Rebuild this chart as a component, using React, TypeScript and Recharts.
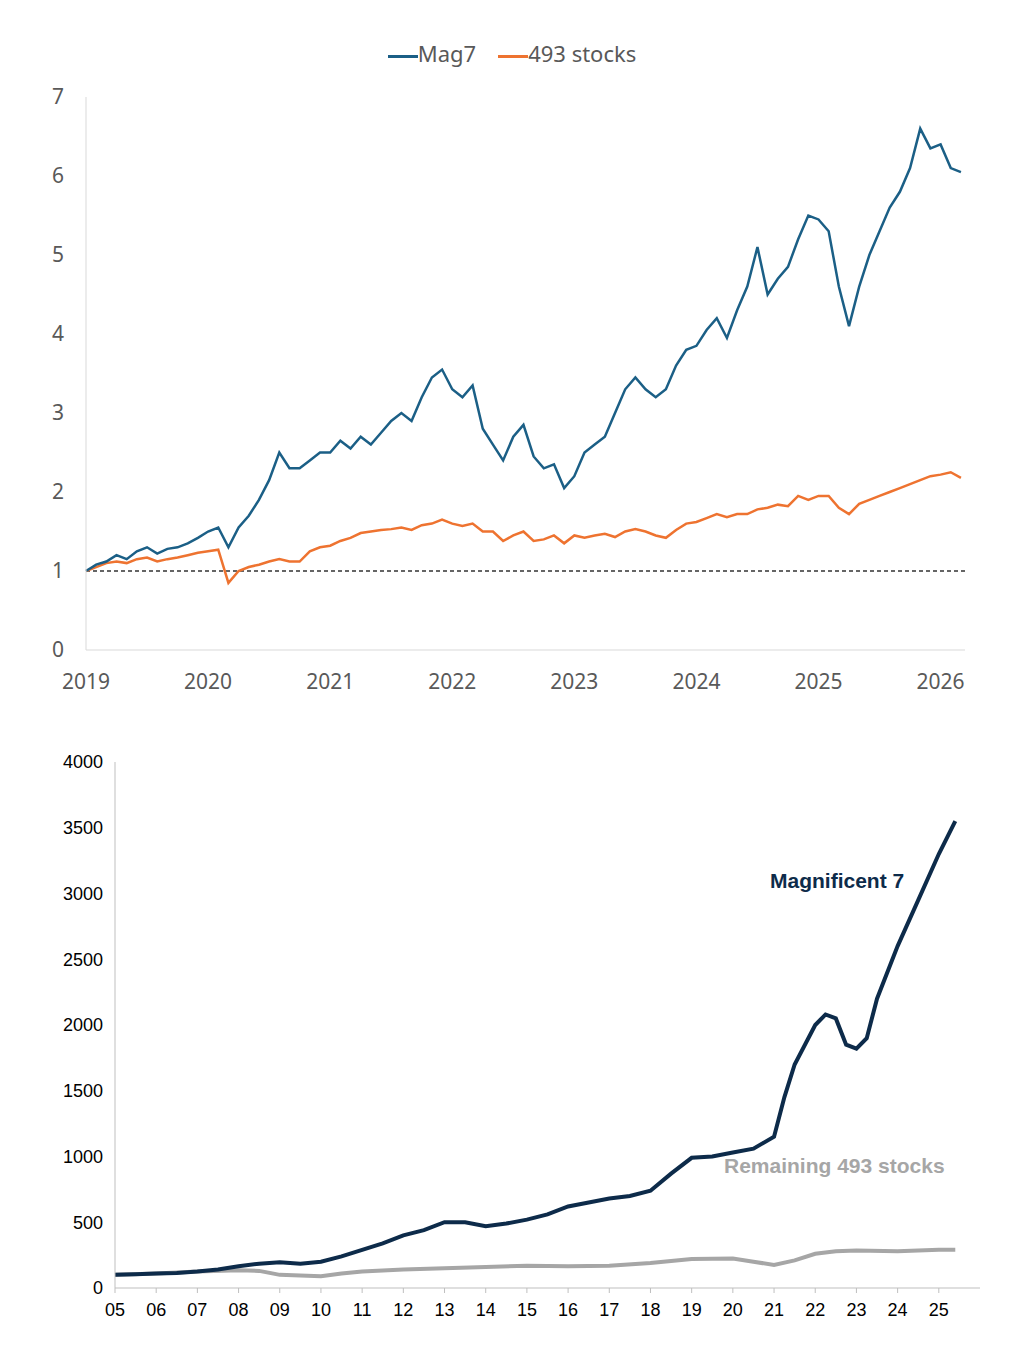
import React from 'react';
import { LineChart, Line, XAxis, YAxis, ReferenceLine } from 'recharts';

// top chart: monthly, Jan 2019 .. Mar 2026
const mag7 = [
  1.0, 1.08, 1.12, 1.2, 1.15, 1.25, 1.3, 1.22, 1.28, 1.3, 1.35, 1.42,
  1.5, 1.55, 1.3, 1.55, 1.7, 1.9, 2.15, 2.5, 2.3, 2.3, 2.4, 2.5,
  2.5, 2.65, 2.55, 2.7, 2.6, 2.75, 2.9, 3.0, 2.9, 3.2, 3.45, 3.55,
  3.3, 3.2, 3.35, 2.8, 2.6, 2.4, 2.7, 2.85, 2.45, 2.3, 2.35, 2.05,
  2.2, 2.5, 2.6, 2.7, 3.0, 3.3, 3.45, 3.3, 3.2, 3.3, 3.6, 3.8,
  3.85, 4.05, 4.2, 3.95, 4.3, 4.6, 5.1, 4.5, 4.7, 4.85, 5.2, 5.5,
  5.45, 5.3, 4.6, 4.1, 4.6, 5.0, 5.3, 5.6, 5.8, 6.1, 6.6, 6.35,
  6.4, 6.1, 6.05,
];
const rest493 = [
  1.0, 1.05, 1.1, 1.12, 1.1, 1.15, 1.17, 1.12, 1.15, 1.17, 1.2, 1.23,
  1.25, 1.27, 0.85, 1.0, 1.05, 1.08, 1.12, 1.15, 1.12, 1.12, 1.25, 1.3,
  1.32, 1.38, 1.42, 1.48, 1.5, 1.52, 1.53, 1.55, 1.52, 1.58, 1.6, 1.65,
  1.6, 1.57, 1.6, 1.5, 1.5, 1.38, 1.45, 1.5, 1.38, 1.4, 1.45, 1.35,
  1.45, 1.42, 1.45, 1.47, 1.43, 1.5, 1.53, 1.5, 1.45, 1.42, 1.52, 1.6,
  1.62, 1.67, 1.72, 1.68, 1.72, 1.72, 1.78, 1.8, 1.84, 1.82, 1.95, 1.9,
  1.95, 1.95, 1.8, 1.72, 1.85, 1.9, 1.95, 2.0, 2.05, 2.1, 2.15, 2.2,
  2.22, 2.25, 2.18,
];
const topYears = [2019, 2020, 2021, 2022, 2023, 2024, 2025, 2026];
const topTicks = [0, 1, 2, 3, 4, 5, 6, 7];

// bottom chart
const magYears = [5, 5.5, 6, 6.5, 7, 7.5, 8, 8.5, 9, 9.5, 10, 10.5, 11, 11.5, 12, 12.5, 13, 13.5, 14, 14.5, 15, 15.5, 16, 16.5, 17, 17.5, 18, 18.5, 19, 19.5, 20, 20.5, 21, 21.25, 21.5, 22, 22.25, 22.5, 22.75, 23, 23.25, 23.5, 24, 24.5, 25, 25.4];
const magValues = [100, 105, 110, 115, 125, 140, 165, 185, 195, 185, 200, 240, 290, 340, 400, 440, 500, 500, 470, 490, 520, 560, 620, 650, 680, 700, 740, 870, 990, 1000, 1030, 1060, 1150, 1450, 1700, 2000, 2080, 2050, 1850, 1820, 1900, 2200, 2600, 2950, 3300, 3550];
const restYears = [5, 6, 7, 8, 8.5, 9, 10, 10.5, 11, 12, 13, 14, 15, 16, 17, 18, 19, 20, 20.5, 21, 21.5, 22, 22.5, 23, 24, 25, 25.4];
const restValues = [100, 110, 125, 135, 130, 100, 90, 110, 125, 140, 150, 160, 170, 165, 170, 190, 220, 225, 200, 175, 210, 260, 280, 285, 280, 290, 290];
const bottomXTicks = [5, 6, 7, 8, 9, 10, 11, 12, 13, 14, 15, 16, 17, 18, 19, 20, 21, 22, 23, 24, 25];
const bottomYTicks = [0, 500, 1000, 1500, 2000, 2500, 3000, 3500, 4000];

const topData = mag7.map((v, i) => ({ t: 2019 + i / 12, mag7: v, rest: rest493[i] }));
const magData = magYears.map((t, i) => ({ t, v: magValues[i] }));
const restData = restYears.map((t, i) => ({ t, v: restValues[i] }));

const BLUE = '#1b5f86';
const ORANGE = '#ee7330';
const topFont = '"Noto Sans", sans-serif';
const botFont = '"Liberation Sans", Arial, sans-serif';

export default function App() {
  return (
    <div style={{ position: 'absolute', left: 0, top: 0, width: 1024, height: 1370, background: '#fff' }}>
      <div style={{ position: 'absolute', top: 38, left: 0, width: 1024, display: 'flex', justifyContent: 'center', gap: 22, fontFamily: topFont, fontSize: 22, color: '#595959' }}>
        <span><span style={{ display: 'inline-block', width: 30, height: 3, background: BLUE, verticalAlign: 'middle' }} />Mag7</span>
        <span><span style={{ display: 'inline-block', width: 30, height: 3, background: ORANGE, verticalAlign: 'middle' }} />493 stocks</span>
      </div>
      <div style={{ position: 'absolute', top: 0, left: 0 }}>
        <LineChart width={1024} height={700} data={topData} margin={{ top: 97, right: 59, left: 46, bottom: 20 }}>
          <XAxis dataKey="t" type="number" domain={[2019, 2026.2]} ticks={topYears} tickLine={false} stroke="#d9d9d9"
            tick={{ fill: '#595959', fontSize: 21, fontFamily: topFont }} tickMargin={18} height={30} />
          <YAxis type="number" domain={[0, 7]} ticks={topTicks} width={40} tickLine={false} stroke="#d9d9d9"
            tick={{ fill: '#595959', fontSize: 21, fontFamily: topFont }} tickMargin={16} />
          <ReferenceLine y={1} stroke="#333" strokeDasharray="4 3" strokeWidth={1.5} />
          <Line dataKey="rest" stroke={ORANGE} strokeWidth={2.5} dot={false} isAnimationActive={false} />
          <Line dataKey="mag7" stroke={BLUE} strokeWidth={2.5} dot={false} isAnimationActive={false} />
        </LineChart>
      </div>
      <div style={{ position: 'absolute', top: 700, left: 0 }}>
        <LineChart width={1024} height={670} margin={{ top: 62, right: 44, left: 55, bottom: 52 }}>
          <XAxis dataKey="t" type="number" domain={[5, 26]} ticks={bottomXTicks} stroke="#bfbfbf" tickSize={5}
            tickFormatter={(v: number) => String(v).padStart(2, '0')} tickMargin={10}
            tick={{ fill: '#000', fontSize: 18, fontFamily: botFont }} height={30} allowDuplicatedCategory={false} />
          <YAxis dataKey="v" type="number" domain={[0, 4000]} ticks={bottomYTicks} width={60} tickLine={false} stroke="#bfbfbf"
            tick={{ fill: '#000', fontSize: 18, fontFamily: botFont }} tickMargin={6} />
          <Line data={restData} dataKey="v" stroke="#a6a6a6" strokeWidth={4} dot={false} isAnimationActive={false} />
          <Line data={magData} dataKey="v" stroke="#0d2b4a" strokeWidth={4} dot={false} isAnimationActive={false} />
        </LineChart>
      </div>
      <div style={{ position: 'absolute', left: 770, top: 869, fontFamily: botFont, fontWeight: 'bold', fontSize: 21, color: '#0d2b4a' }}>Magnificent 7</div>
      <div style={{ position: 'absolute', left: 724, top: 1154, fontFamily: botFont, fontWeight: 'bold', fontSize: 21, color: '#a6a6a6' }}>Remaining 493 stocks</div>
    </div>
  );
}
